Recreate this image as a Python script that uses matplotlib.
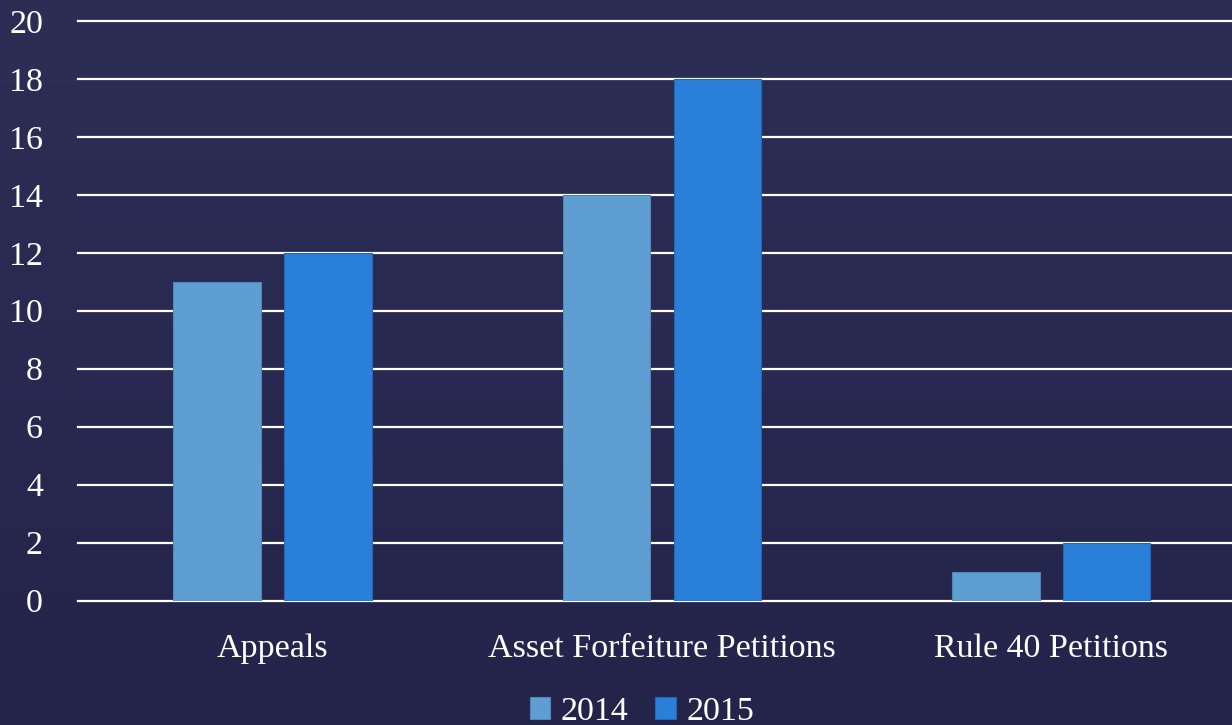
import numpy as np
import matplotlib
matplotlib.use("Agg")
import matplotlib.pyplot as plt

categories = ["Appeals", "Asset Forfeiture Petitions", "Rule 40 Petitions"]
years = ["2014", "2015"]
values_2014 = [11, 14, 1]
values_2015 = [12, 18, 2]
y_ticks = [0, 2, 4, 6, 8, 10, 12, 14, 16, 18, 20]

COLORS = {"2014": "#5f9ed3", "2015": "#2a7fd8"}
EDGES = {"2014": "#4f86b8", "2015": "#2368b4"}
BG_TOP = np.array([0x2d, 0x2e, 0x56]) / 255
BG_BOT = np.array([0x24, 0x24, 0x4b]) / 255

plt.rcParams["font.family"] = ["Liberation Serif", "DejaVu Serif"]
FS = 24.5

W, H = 1232, 725
fig = plt.figure(figsize=(W / 100, H / 100), dpi=100)

# background gradient
bg = fig.add_axes([0, 0, 1, 1], zorder=-10)
t = np.linspace(0, 1, 256)[:, None]
grad = BG_TOP[None, None, :] * (1 - t[..., None]) + BG_BOT[None, None, :] * t[..., None]
bg.imshow(np.repeat(grad, 2, axis=1), aspect="auto", extent=[0, 1, 0, 1])
bg.axis("off")

# axes: x from 77.7px to 1246px (cropped at right), y 0 at 600.5px, 20 at 21px
left = 77.7 / W
right = 1246.0 / W
bottom = 1 - 600.5 / H
top = 1 - 21.0 / H
ax = fig.add_axes([left, bottom, right - left, top - bottom])
ax.set_facecolor("none")

x = np.arange(len(categories))
width = 0.2245
offset = 0.1425
ax.bar(x - offset, values_2014, width, color=COLORS["2014"], edgecolor=EDGES["2014"],
       linewidth=0.8, label="2014", zorder=3)
ax.bar(x + offset, values_2015, width, color=COLORS["2015"], edgecolor=EDGES["2015"],
       linewidth=0.8, label="2015", zorder=3)

ax.set_xlim(-0.5, 2.5)
ax.set_ylim(0, 20)
ax.set_yticks(y_ticks)
for yv in y_ticks:
    ax.axhline(yv, color="white", linewidth=1.6, zorder=2, clip_on=False)

for s in ax.spines.values():
    s.set_visible(False)
ax.tick_params(axis="both", length=0, colors="white", labelsize=FS)
ax.tick_params(axis="y", pad=25)
ax.tick_params(axis="x", pad=24)
ax.set_xticks(x)
ax.set_xticklabels(categories)

leg = fig.legend(loc="lower center", bbox_to_anchor=(0.521, -0.045), ncol=2, frameon=False,
                 fontsize=FS, handlelength=0.6, handleheight=0.6, handletextpad=0.3,
                 columnspacing=0.8, labelcolor="white")

fig.savefig("out.png", dpi=100, facecolor=fig.get_facecolor())
